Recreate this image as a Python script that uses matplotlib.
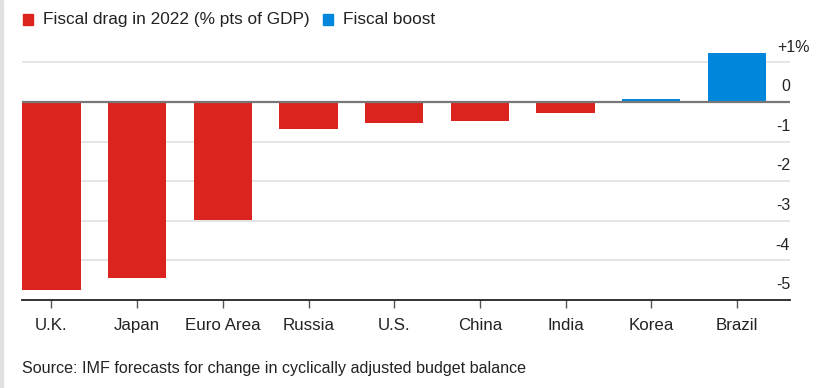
import matplotlib.pyplot as plt
from matplotlib import transforms

# Datos
countries = ['U.K.', 'Japan', 'Euro Area', 'Russia', 'U.S.', 'China', 'India', 'Korea', 'Brazil']
change = [-4.75, -4.44, -2.98, -0.69, -0.54, -0.48, -0.27, 0.07, 1.23]
ytick_vals = [1, 0, -1, -2, -3, -4, -5]
ytick_labels = ['+1%', '0', '-1', '-2', '-3', '-4', '-5']

red = '#dc241f'
blue = '#0087dc'
plt.rcParams['font.family'] = ['Liberation Sans', 'DejaVu Sans']

fig = plt.figure(figsize=(8.3, 3.88), dpi=100)
ax = fig.add_axes([22 / 830, 1 - 300 / 388, (790 - 22) / 830, 255 / 388])

colors = [blue if v > 0 else red for v in change]
x = list(range(len(countries)))
ax.bar(x, change, width=0.683, color=colors, zorder=3)

ax.set_xlim(-0.344, 8.62)
ax.set_ylim(-5, 1.44)

# Líneas de cuadrícula
for v in ytick_vals:
    if v == 0:
        ax.axhline(0, color='#777777', lw=1.6, zorder=4)
    elif v != -5:
        ax.axhline(v, color='#e3e3e3', lw=1.3, zorder=1)

# Etiquetas del eje y, por encima de cada línea
off = transforms.ScaledTranslation(0, 11 / 72, fig.dpi_scale_trans)
tr_ax = transforms.blended_transform_factory(ax.transAxes, ax.transData) + off
tr_fig = transforms.blended_transform_factory(fig.transFigure, ax.transData) + off
for v, lab in zip(ytick_vals, ytick_labels):
    if lab == '+1%':
        ax.text(777 / 830, v, lab, transform=tr_fig, ha='left', va='center',
                fontsize=11.5, color='#222222')
    else:
        ax.text(1.0, v, lab, transform=tr_ax, ha='right', va='center',
                fontsize=11.5, color='#222222')

ax.set_yticks([])
for s in ['top', 'right', 'left']:
    ax.spines[s].set_visible(False)
ax.spines['bottom'].set_color('#222222')
ax.spines['bottom'].set_linewidth(1.3)
ax.set_xticks(x)
ax.set_xticklabels(countries, fontsize=12.2, color='#222222')
ax.tick_params(axis='x', length=6, width=1, color='#555555', pad=7)

# Leyenda
fig.patches.append(plt.Rectangle((23 / 830, 1 - 25 / 388), 10 / 830, 11 / 388,
                                 transform=fig.transFigure, color=red))
fig.text(43 / 830, 1 - 19.5 / 388, 'Fiscal drag in 2022 (% pts of GDP)', fontsize=12.4,
         va='center', color='#222222')
fig.patches.append(plt.Rectangle((323 / 830, 1 - 25 / 388), 10 / 830, 11 / 388,
                                 transform=fig.transFigure, color=blue))
fig.text(343 / 830, 1 - 19.5 / 388, 'Fiscal boost', fontsize=12.4, va='center', color='#222222')

# Fuente
fig.text(22 / 830, 1 - 369 / 388, 'Source: IMF forecasts for change in cyclically adjusted budget balance',
         fontsize=11.6, va='center', color='#222222')

# Borde gris a la izquierda
fig.patches.append(plt.Rectangle((0, 0), 3 / 830, 1, transform=fig.transFigure, color='#e0e0e0'))

fig.savefig('out.png', dpi=100)
